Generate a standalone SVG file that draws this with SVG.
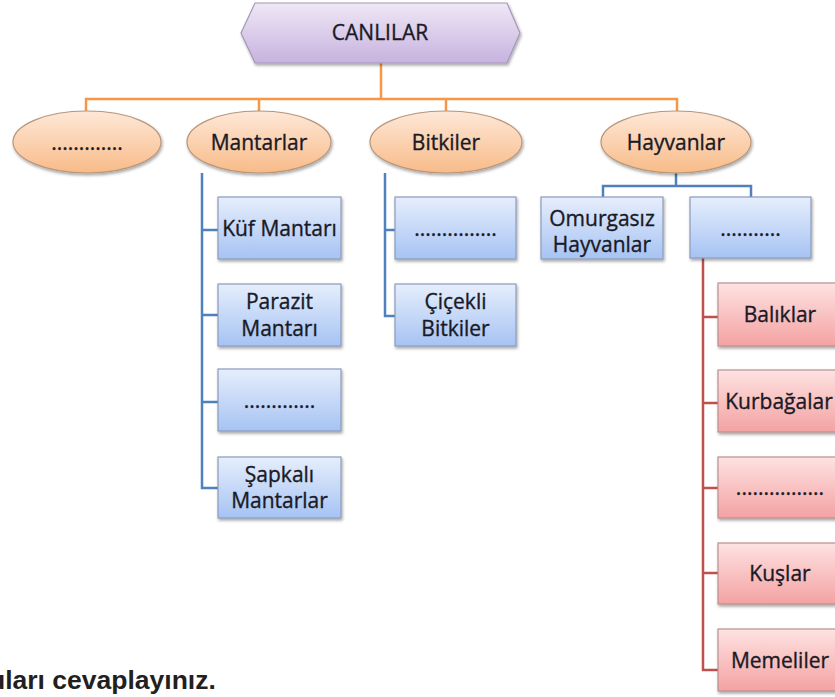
<svg xmlns="http://www.w3.org/2000/svg" width="835" height="697" viewBox="0 0 835 697">
<defs>
<linearGradient id="gHex" x1="0" y1="0" x2="0" y2="1"><stop offset="0" stop-color="#efe8f6"/><stop offset="1" stop-color="#c7b2df"/></linearGradient>
<linearGradient id="gEll" x1="0" y1="0" x2="0" y2="1"><stop offset="0" stop-color="#fee8d8"/><stop offset="1" stop-color="#f8bb88"/></linearGradient>
<linearGradient id="gBlue" x1="0" y1="0" x2="0" y2="1"><stop offset="0" stop-color="#e6eefc"/><stop offset="1" stop-color="#a6c3f3"/></linearGradient>
<linearGradient id="gRed" x1="0" y1="0" x2="0" y2="1"><stop offset="0" stop-color="#fee2e2"/><stop offset="1" stop-color="#f4a2a2"/></linearGradient>
<filter id="sh" x="-10%" y="-10%" width="125%" height="135%"><feDropShadow dx="1" dy="2" stdDeviation="1.5" flood-color="#000" flood-opacity="0.35"/></filter>
</defs>
<style>
text{font-family:"Open Sans","Noto Sans","Liberation Sans",sans-serif;font-size:21px;fill:#1a1a26;stroke:#1a1a26;stroke-width:0.35;text-anchor:middle}
.hex{fill:url(#gHex);stroke:#a596b5;stroke-width:1.2;filter:url(#sh)}
.ell{fill:url(#gEll);stroke:#b8967a;stroke-width:1.2;filter:url(#sh)}
.bb{fill:url(#gBlue);stroke:#8a9cbc;stroke-width:1.2;filter:url(#sh)}
.rb{fill:url(#gRed);stroke:#b99090;stroke-width:1.2;filter:url(#sh)}
.co{fill:none;stroke:#f79646;stroke-width:2.5}
.cb{fill:none;stroke:#4f81bd;stroke-width:2.5}
.cr{fill:none;stroke:#c0504d;stroke-width:2.5}
.q{font-family:"Liberation Sans",Arial,sans-serif;font-weight:bold;font-size:26.5px;fill:#231f20;stroke:none;text-anchor:start}
</style>
<g id="connectors">
<path class="co" d="M381,63 V99 M86,111 V99 H677 V111 M259,99 V111 M446,99 V111"/>
<path class="cb" d="M202,173 V488 H218 M202,230 H218 M202,315 H218 M202,402 H218"/>
<path class="cb" d="M385,173 V316 H395 M385,230 H395"/>
<path class="cb" d="M676,173 V186 M603,197 V186 H751 V197"/>
<path class="cr" d="M703,258 V670 H718 M703,317 H718 M703,403 H718 M703,488 H718 M703,573 H718"/>
</g>
<g id="canlilar"><polygon class="hex" points="255,3 507,3 520,33 507,63 255,63 241,33"/><text x="380" y="40">CANLILAR</text></g>
<g id="e1"><ellipse class="ell" cx="87" cy="142" rx="74" ry="31"/><text x="87" y="150">.............</text></g>
<g id="mantarlar"><ellipse class="ell" cx="259" cy="142" rx="72" ry="31"/><text x="259" y="150">Mantarlar</text></g>
<g id="bitkiler"><ellipse class="ell" cx="446" cy="142" rx="76" ry="31"/><text x="446" y="150">Bitkiler</text></g>
<g id="hayvanlar"><ellipse class="ell" cx="676" cy="142" rx="75" ry="31"/><text x="676" y="150">Hayvanlar</text></g>
<g id="kuf"><rect class="bb" x="218" y="197" width="123" height="62"/><text x="279.5" y="236">Küf Mantarı</text></g>
<g id="parazit"><rect class="bb" x="218" y="284" width="123" height="62"/><text x="279.5" y="309">Parazit</text><text x="279.5" y="336">Mantarı</text></g>
<g id="m3"><rect class="bb" x="218" y="369" width="123" height="62"/><text x="279.5" y="408">.............</text></g>
<g id="sapkali"><rect class="bb" x="218" y="457" width="123" height="61"/><text x="279.5" y="482">Şapkalı</text><text x="279.5" y="508">Mantarlar</text></g>
<g id="b1"><rect class="bb" x="395" y="197" width="121" height="62"/><text x="455.5" y="236">...............</text></g>
<g id="cicekli"><rect class="bb" x="395" y="284" width="121" height="62"/><text x="455.5" y="309">Çiçekli</text><text x="455.5" y="336">Bitkiler</text></g>
<g id="omurgasiz"><rect class="bb" x="541" y="197" width="122" height="62"/><text x="602" y="226">Omurgasız</text><text x="602" y="252">Hayvanlar</text></g>
<g id="h2"><rect class="bb" x="690" y="197" width="121" height="61"/><text x="750.5" y="236">...........</text></g>
<g id="baliklar"><rect class="rb" x="718" y="283" width="124" height="63"/><text x="780" y="322">Balıklar</text></g>
<g id="kurbagalar"><rect class="rb" x="718" y="370" width="124" height="62"/><text x="779" y="409">Kurbağalar</text></g>
<g id="r3"><rect class="rb" x="718" y="457" width="124" height="61"/><text x="780" y="495">................</text></g>
<g id="kuslar"><rect class="rb" x="718" y="543" width="124" height="61"/><text x="780" y="581">Kuşlar</text></g>
<g id="memeliler"><rect class="rb" x="718" y="629" width="124" height="62"/><text x="780" y="668">Memeliler</text></g>
<text class="q" x="-11" y="689">uları cevaplayınız.</text>
</svg>
